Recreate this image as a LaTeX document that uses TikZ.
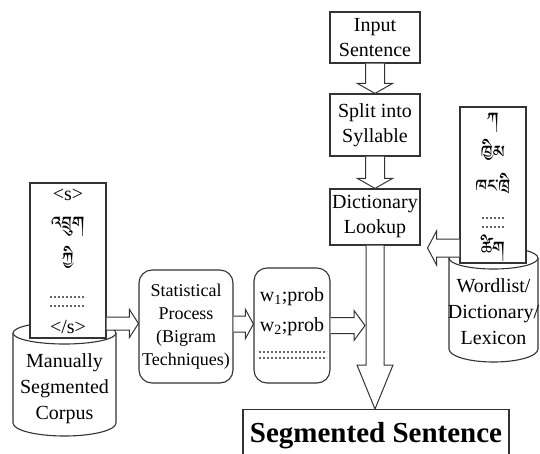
\documentclass[tikz,border=0pt]{standalone}
\usepackage{fontspec}
\setmainfont{Liberation Serif}
\IfFontExistsTF{Jomolhari}{\newfontfamily\tibfont[Script=Tibetan]{Jomolhari}}{\IfFontExistsTF{Tibetan Machine Uni}{\newfontfamily\tibfont[Script=Tibetan]{Tibetan Machine Uni}}{\newcommand\tibfont{}}}
\usetikzlibrary{calc}
\newcommand\ftA{\fontsize{20}{25}\selectfont}
\newcommand\ftB{\fontsize{20}{26}\selectfont}
\newcommand\ftC{\fontsize{18}{23}\selectfont}
\newcommand\ftSeg{\fontsize{29}{32}\selectfont\bfseries}
\newcommand\ftTib{\tibfont\fontsize{22}{24}\selectfont}
\tikzset{
  box/.style={draw=black!80, line width=1.1pt, fill=white, align=center, inner sep=0pt},
  rbox/.style={box, rounded corners=13pt},
  lbl/.style={align=center, inner sep=0pt},
  barrow/.style={draw=black!80, line width=1pt, fill=white, line join=miter},
  dotrow/.style={draw=black!60, line width=1.6pt, dash pattern=on 1.6pt off 2.4pt},
  cyl/.style={draw=black!80, line width=1.1pt, fill=white},
}
% #1 start, #2 end, #3 half shaft, #4 half head, #5 head length
\newcommand\dnarrow[5]{\draw[barrow] let \p1=(#1), \p2=(#2) in
  (\x1-#3,\y1) -- (\x1-#3,\y2+#5) -- (\x1-#4,\y2+#5) -- (\x1,\y2) -- (\x1+#4,\y2+#5) -- (\x1+#3,\y2+#5) -- (\x1+#3,\y1);}
\newcommand\rtarrow[5]{\draw[barrow] let \p1=(#1), \p2=(#2) in
  (\x1,\y1+#3) -- (\x2-#5,\y1+#3) -- (\x2-#5,\y1+#4) -- (\x2,\y1) -- (\x2-#5,\y1-#4) -- (\x2-#5,\y1-#3) -- (\x1,\y1-#3);}
\newcommand\lfarrow[5]{\draw[barrow] let \p1=(#1), \p2=(#2) in
  (\x1,\y1+#3) -- (\x2+#5,\y1+#3) -- (\x2+#5,\y1+#4) -- (\x2,\y1) -- (\x2+#5,\y1-#4) -- (\x2+#5,\y1-#3) -- (\x1,\y1-#3);}
\begin{document}
\begin{tikzpicture}[x=1pt,y=1pt]
\useasboundingbox (0,0) rectangle (540,-453);
\fill[white] (0,0) rectangle (540,-453);

% main column
\node[box, minimum width=90pt, minimum height=51pt, font=\ftA] (inp) at (375,-37.5) {Input\\Sentence};
\node[box, minimum width=90pt, minimum height=62pt, font=\ftA] (split) at (375,-125) {Split into\\Syllable};
\node[box, minimum width=90pt, minimum height=56pt, font=\ftA] (dict) at (375,-217) {Dictionary\\Lookup};
\node[box, anchor=north, minimum width=266pt, text height=20pt, text depth=40pt, inner ysep=13pt, font=\ftSeg] (seg) at (376,-409) {Segmented Sentence};

% left corpus cylinder and document
\draw[cyl] (13,-333) -- (13,-423) arc[start angle=180, end angle=360, x radius=51.5, y radius=13] -- (116,-333);
\draw[cyl] (64.5,-333) ellipse[x radius=51.5, y radius=11];
\node[lbl, font=\ftB] (lcorp) at (64.5,-389) {Manually\\Segmented\\Corpus};
\node[box, minimum width=76pt, minimum height=155pt] (ldoc) at (68,-260.5) {};
\node[lbl, font=\ftA] (ls1) at (68,-195) {<s>};
\node[lbl, font=\ftTib] (lt1) at (68,-227) {འབྲུག};
\node[lbl, font=\ftTib] (lt2) at (68,-258) {ཀྱི};
\draw[dotrow] (50,-297) -- (86,-297);
\draw[dotrow] (50,-306) -- (86,-306);
\node[lbl, font=\ftA] (ls2) at (68,-327) {</s>};

% right lexicon cylinder and document
\draw[cyl] (449,-258) -- (449,-349) arc[start angle=180, end angle=360, x radius=44.5, y radius=13] -- (538,-258);
\draw[cyl] (493.5,-258) ellipse[x radius=44.5, y radius=11];
\node[lbl, font=\ftB] (rlex) at (493.5,-312) {Wordlist/\\Dictionary/\\Lexicon};
\node[box, minimum width=66pt, minimum height=156pt] (rdoc) at (493,-185) {};
\node[lbl, font=\ftTib] (rt1) at (493,-123) {ཀ};
\node[lbl, font=\ftTib] (rt2) at (493,-151) {ཁྱིམ};
\node[lbl, font=\ftTib] (rt3) at (493,-185) {ཁང་ཁྲི};
\draw[dotrow] (482,-218) -- (504,-218);
\draw[dotrow] (482,-227) -- (504,-227);
\node[lbl, font=\ftTib] (rt4) at (493,-248) {ཚིག};

% process boxes
\node[rbox, minimum width=94pt, minimum height=113pt, font=\ftC] (stat) at (186,-326.5) {Statistical\\Process\\(Bigram\\Techniques)};
\node[rbox, minimum width=76pt, minimum height=115pt] (wbox) at (292,-325.5) {};
\node[lbl, font=\ftA] (w1) at (292,-297) {w\textsubscript{1};prob};
\node[lbl, font=\ftA] (w2) at (292,-327) {w\textsubscript{2};prob};
\draw[dotrow] (259,-352) -- (327,-352);
\draw[dotrow] (259,-358) -- (327,-358);

% connectors
\dnarrow{inp.south}{split.north}{9.5}{17.5}{10}
\dnarrow{split.south}{dict.north}{9.5}{17.5}{10}
\coordinate (dtip) at ($(dict.east)+(7,-31)$);
\lfarrow{rdoc.west |- dtip}{dtip}{9}{17}{9}
\coordinate (a1) at ($(stat.west)+(0,3)$);
\rtarrow{ldoc.east |- a1}{a1}{6.5}{14}{9}
\coordinate (a2) at ($(wbox.west)+(0,1.5)$);
\rtarrow{stat.east |- a2}{a2}{8}{14.5}{8}
\coordinate (shaftL) at ($(dict.south)+(-10,0)$);
\rtarrow{wbox.east}{shaftL |- wbox.east}{8}{15}{11}
\dnarrow{dict.south}{seg.north}{9}{18}{44}
\end{tikzpicture}
\end{document}
